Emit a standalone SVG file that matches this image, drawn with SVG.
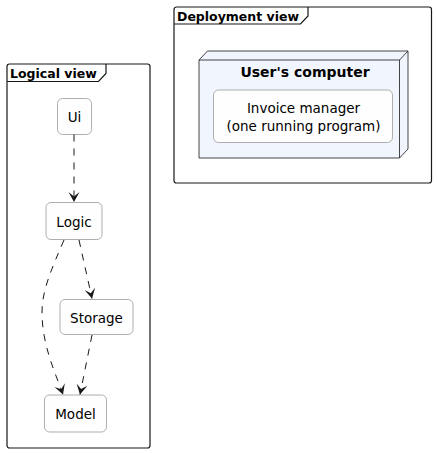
<svg xmlns="http://www.w3.org/2000/svg" width="437" height="453" viewBox="0 0 437 453">
<style>
.frame{fill:none;stroke:#181818;stroke-width:1.2}
.title{font-family:"DejaVu Sans",sans-serif;font-weight:bold;font-size:12.5px;fill:#000}
.box{fill:#FEFEFE;stroke:#9A9A9A;stroke-width:0.8}
.lbl{font-family:"DejaVu Sans",sans-serif;font-size:13.5px;fill:#000;text-anchor:middle}
.nodelbl{font-family:"DejaVu Sans",sans-serif;font-weight:bold;font-size:14px;fill:#000;text-anchor:middle}
.edge{fill:none;stroke:#181818;stroke-width:1;stroke-dasharray:7,7}
</style>
<defs>
<marker id="arr" markerUnits="userSpaceOnUse" markerWidth="12" markerHeight="12" refX="10" refY="5.5" orient="auto">
<path d="M0,0 L10,5.5 L0,11 L4.5,5.5 Z" fill="#181818"/>
</marker>
</defs>
<g id="logical-view">
<rect class="frame" x="7" y="64" width="143" height="384" rx="2.5"/>
<path class="frame" d="M7,81.5 L98.5,81.5 L106,73.5 L106,64"/>
<text class="title" x="10" y="78">Logical view</text>
</g>
<g id="deployment-view">
<rect class="frame" x="174" y="7" width="257.5" height="176" rx="2.5"/>
<path class="frame" d="M174,24 L300.5,24 L308,16 L308,7"/>
<text class="title" x="177" y="20.5">Deployment view</text>
</g>
<g id="users-computer">
<path d="M199,60 L207.5,51 L408,51 L408,149 L399.5,158 L199,158 Z" fill="#F1F5FE" stroke="#181818" stroke-width="0.8"/>
<path d="M199,60 L399.5,60 L408,51 M399.5,60 L399.5,158" fill="none" stroke="#181818" stroke-width="0.8"/>
<text class="nodelbl" x="305" y="76.5">User's computer</text>
</g>
<g id="invoice-manager">
<rect class="box" x="213.5" y="90" width="179" height="52.5" rx="5"/>
<text class="lbl" x="303.5" y="113">Invoice manager</text>
<text class="lbl" x="303.5" y="130.5">(one running program)</text>
</g>
<g id="ui">
<rect class="box" x="57.5" y="98.5" width="34" height="36" rx="5"/>
<text class="lbl" x="74.5" y="121.5">Ui</text>
</g>
<g id="logic">
<rect class="box" x="46" y="202.5" width="56" height="37" rx="5"/>
<text class="lbl" x="74" y="226.5">Logic</text>
</g>
<g id="storage">
<rect class="box" x="60" y="299.5" width="73" height="35" rx="5"/>
<text class="lbl" x="96.5" y="322.5">Storage</text>
</g>
<g id="model">
<rect class="box" x="44.5" y="395" width="62" height="37" rx="5"/>
<text class="lbl" x="75.5" y="419">Model</text>
</g>
<g id="connectors">
<path class="edge" d="M74,134.5 L74,202" marker-end="url(#arr)"/>
<path class="edge" d="M79,240 L92,298.5" marker-end="url(#arr)"/>
<path class="edge" d="M64,240 C52,268 42,290 42,312 C42,345 55,372 63,394.5" marker-end="url(#arr)"/>
<path class="edge" d="M92,335 L80,394.5" marker-end="url(#arr)"/>
</g>
</svg>
